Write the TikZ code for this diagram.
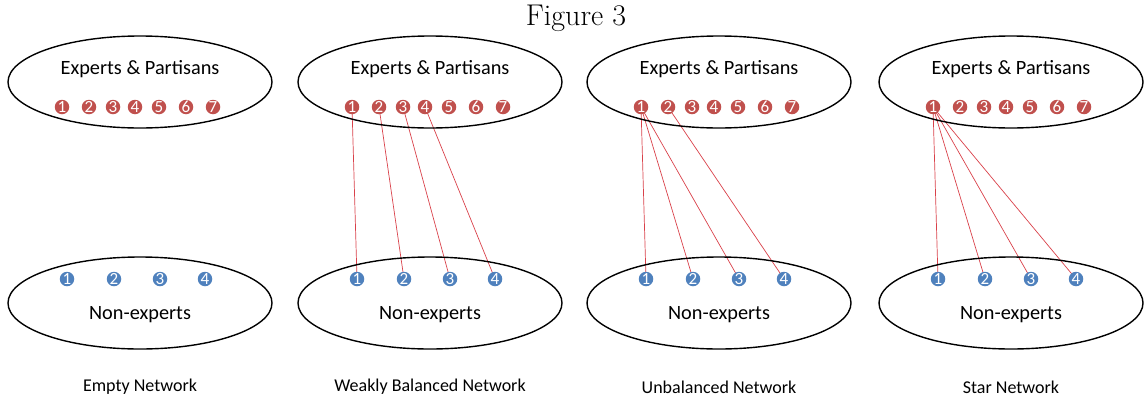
\documentclass[tikz,border=0pt]{standalone}
\usepackage{fontspec}
\newfontfamily\calfont{Carlito}
\usetikzlibrary{shapes.geometric,backgrounds}
\definecolor{ered}{HTML}{C0504D}
\definecolor{nblue}{HTML}{4F81BD}
\definecolor{lred}{HTML}{D9414A}
\begin{document}
\begin{tikzpicture}[x=1pt,y=-1pt,
  group/.style={ellipse, draw, line width=1.4pt, minimum width=264pt, minimum height=92pt, inner sep=0pt},
  grouplabel/.style={font=\calfont\fontsize{20.3}{24}\selectfont, inner sep=0pt},
  rdot/.style={circle, fill=ered, text=white, inner sep=0pt, minimum size=14.5pt, font=\calfont\fontsize{17}{17}\selectfont},
  bdot/.style={rdot, fill=nblue},
  link/.style={lred, line width=0.7pt},
  caption/.style={font=\calfont\fontsize{18}{22}\selectfont, inner sep=0pt}]
\useasboundingbox (0,0) rectangle (1145,399);
\node (title) at (576,18) {\fontsize{30}{36}\selectfont Figure 3};
\foreach \p/\cx in {1/140,2/430,3/719,4/1011} {
  \node[group] (t\p) at (\cx,82) {};
  \node[grouplabel] (tl\p) at (\cx,69) {Experts \& Partisans};
  \node[group] (b\p) at (\cx,303) {};
  \node[grouplabel] (bl\p) at (\cx,315) {Non-experts};
  \foreach \i/\dx in {1/-78,2/-51,3/-27,4/-5,5/19,6/46,7/73}
    \node[rdot] (r\p-\i) at (\cx+\dx,107) {\i};
  \foreach \j/\dx in {1/-73,2/-26,3/20,4/65}
    \node[bdot] (n\p-\j) at (\cx+\dx,279) {\j};
}
\node[caption] (c1) at (140,387) {Empty Network};
\node[caption] (c2) at (430,387) {Weakly Balanced Network};
\node[caption] (c3) at (719,387) {Unbalanced Network};
\node[caption] (c4) at (1011,387) {Star Network};
\begin{scope}[on background layer]
  \foreach \i in {1,...,4} \draw[link] (r2-\i.center) -- (n2-\i.center);
  \foreach \j in {1,2,3} \draw[link] (r3-1.center) -- (n3-\j.center);
  \draw[link] (r3-2.center) -- (n3-4.center);
  \foreach \j in {1,...,4} \draw[link] (r4-1.center) -- (n4-\j.center);
\end{scope}
\end{tikzpicture}
\end{document}
